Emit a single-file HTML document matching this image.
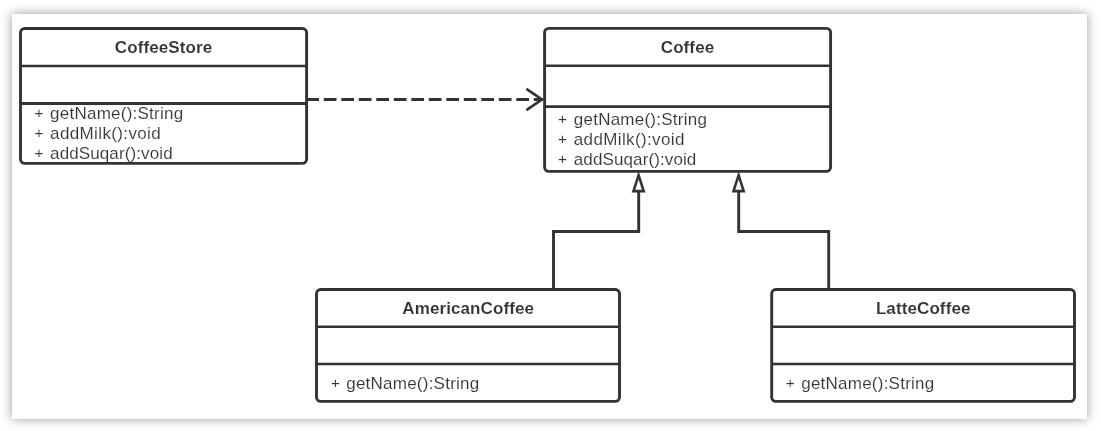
<!DOCTYPE html>
<html lang="en">
<head>
<meta charset="utf-8">
<title>Coffee UML class diagram</title>
<style>
  html, body { margin: 0; padding: 0; background: #ffffff; }
  body { width: 1101px; height: 431px; overflow: hidden; position: relative; }
  .panel {
    position: absolute; left: 12px; top: 14px; width: 1075px; height: 404.5px;
    background: #ffffff;
    box-shadow: 0 0 10px rgba(0, 0, 0, 0.4);
  }
  svg { position: absolute; left: 0; top: 0; will-change: transform; }
  .box, .ln, .dv { fill: none; stroke: #333333; stroke-width: 2.9; }
  .dv { stroke-width: 2.5; }
  .box { fill: #ffffff; }
  text { fill: #333333; font-family: "Liberation Sans", sans-serif; }
  .title { font-weight: bold; font-size: 17px; letter-spacing: 0.1px; text-anchor: middle; stroke: #ffffff; stroke-width: 0.1px; }
  .m { font-size: 17px; letter-spacing: 0.24px; stroke: #ffffff; stroke-width: 0.12px; }
  .p { font-size: 15.3px; }
  .m2 { letter-spacing: 0.37px; }
  .m3 { letter-spacing: 0.11px; }
</style>
</head>
<body>
<div class="panel"></div>
<svg width="1101" height="431" viewBox="0 0 1101 431">
  <!-- CoffeeStore -->
  <g>
    <rect class="box" x="20.5" y="28.5" width="286.1" height="134.9" rx="4.2" ry="4.2"/>
    <line class="dv" x1="20.5" y1="66" x2="306.6" y2="66"/>
    <line class="ln" x1="20.5" y1="103.5" x2="306.6" y2="103.5"/>
    <text class="title" x="163.5" y="53">CoffeeStore</text>
    <text class="m" x="34.5" y="119"><tspan class="p" dy="-1">+ </tspan><tspan x="50.1" dy="1">getName():String</tspan></text>
    <text class="m m2" x="34.5" y="139"><tspan class="p" dy="-1">+ </tspan><tspan x="50.1" dy="1">addMilk():void</tspan></text>
    <text class="m m3" x="34.5" y="159"><tspan class="p" dy="-1">+ </tspan><tspan x="50.1" dy="1">addSuqar():void</tspan></text>
  </g>
  <!-- Coffee -->
  <g>
    <rect class="box" x="544.6" y="28.4" width="286" height="143" rx="4.2" ry="4.2"/>
    <line class="dv" x1="544.6" y1="65.8" x2="830.6" y2="65.8"/>
    <line class="ln" x1="544.6" y1="106.55" x2="830.6" y2="106.55" style="stroke-width:2.75"/>
    <text class="title" x="687.5" y="53">Coffee</text>
    <text class="m" x="558.1" y="125"><tspan class="p" dy="-1">+ </tspan><tspan x="573.8" dy="1">getName():String</tspan></text>
    <text class="m m2" x="558.1" y="145"><tspan class="p" dy="-1">+ </tspan><tspan x="573.8" dy="1">addMilk():void</tspan></text>
    <text class="m m3" x="558.1" y="165"><tspan class="p" dy="-1">+ </tspan><tspan x="573.8" dy="1">addSuqar():void</tspan></text>
  </g>
  <!-- AmericanCoffee -->
  <g>
    <rect class="box" x="316.5" y="289.5" width="303" height="111.9" rx="4.2" ry="4.2"/>
    <line class="dv" x1="316.5" y1="326.7" x2="619.5" y2="326.7"/>
    <line class="dv" x1="316.5" y1="363.9" x2="619.5" y2="363.9"/>
    <text class="title" x="468.2" y="314">AmericanCoffee</text>
    <text class="m" x="330.9" y="389"><tspan class="p" dy="-1">+ </tspan><tspan x="346.2" dy="1">getName():String</tspan></text>
  </g>
  <!-- LatteCoffee -->
  <g>
    <rect class="box" x="771.7" y="289.5" width="302.8" height="111.9" rx="4.2" ry="4.2"/>
    <line class="dv" x1="771.7" y1="326.7" x2="1074.5" y2="326.7"/>
    <line class="dv" x1="771.7" y1="363.9" x2="1074.5" y2="363.9"/>
    <text class="title" x="923.2" y="314">LatteCoffee</text>
    <text class="m" x="785.7" y="389"><tspan class="p" dy="-1">+ </tspan><tspan x="801.2" dy="1">getName():String</tspan></text>
  </g>
  <!-- dependency: CoffeeStore ..> Coffee -->
  <line class="ln" x1="306.3" y1="99.5" x2="543" y2="99.5" stroke-dasharray="12.7 4.8"/>
  <polyline class="ln" points="526.4,88.8 541.9,99.5 526.4,110.2" style="stroke-width:2.7"/>
  <!-- generalization arrows -->
  <polyline class="ln" points="553.5,289.5 553.5,231.5 638.7,231.5 638.7,190.9"/>
  <polygon class="ln" points="638.6,175.2 643.7,191.1 633.5,191.1" style="fill:#fff;stroke-width:2.6"/>
  <polyline class="ln" points="828.7,289.5 828.7,231.5 738.7,231.5 738.7,190.9"/>
  <polygon class="ln" points="738.6,175.2 743.7,191.1 733.5,191.1" style="fill:#fff;stroke-width:2.6"/>
</svg>
</body>
</html>
